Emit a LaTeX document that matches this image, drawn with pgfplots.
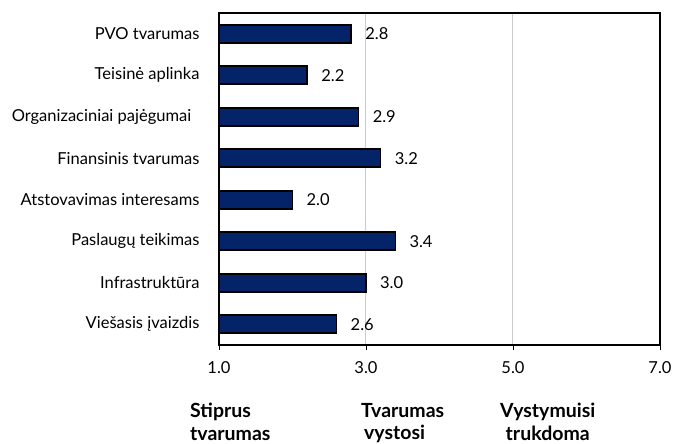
\documentclass[border=0pt]{standalone}
\usepackage{pgfplots}
\pgfplotsset{compat=1.18}
\usepackage{fontspec}
\setmainfont{Lato}
\definecolor{barblue}{RGB}{5,35,105}
\begin{document}
\begin{tikzpicture}[x=1pt,y=1pt]
\begin{axis}[
  at={(0,0)}, anchor=south west,
  scale only axis, width=441pt, height=332pt,
  xbar, bar width=18pt,
  xmin=1, xmax=7,
  ymin=-0.5, ymax=7.5, y dir=reverse,
  xtick={1,3,5,7},
  xticklabel style={yshift=-8pt, /pgf/number format/fixed, /pgf/number format/fixed zerofill, /pgf/number format/precision=1},
  /pgf/number format/assume math mode=true,
  xtick pos=bottom, xtick align=outside,
  major tick length=5pt,
  ytick={0,...,7},
  yticklabels={PVO tvarumas,Teisinė aplinka,Organizaciniai pajėgumai\phantom{x},Finansinis tvarumas,Atstovavimas interesams,Paslaugų teikimas,Infrastruktūra,Viešasis įvaizdis},
  ytick style={draw=none},
  extra y ticks={-0.5,0.5,1.5,2.5,3.5,4.5,5.5,6.5,7.5},
  extra y tick labels={},
  extra y tick style={ytick pos=left, ytick align=outside, major tick length=6pt, tick style={draw=black, line width=0.8pt}},
  xmajorgrids, grid style={gray!40, line width=1pt},
  axis line style={line width=2pt},
  tick style={black, line width=0.8pt},
  ticklabel style={font=\fontsize{16.5}{19}\selectfont},
  yticklabel style={xshift=-11pt},
  nodes near coords,
  nodes near coords style={font=\fontsize{16.5}{19}\selectfont, anchor=west, xshift=10pt, /pgf/number format/fixed, /pgf/number format/fixed zerofill, /pgf/number format/precision=1},
  point meta=x,
]
\addplot[fill=barblue, draw=black, line width=1.6pt] coordinates {
(2.8,0) (2.2,1) (2.9,2) (3.2,3) (2.0,4) (3.4,5) (3.0,6) (2.6,7)};
\end{axis}
\begin{scope}[font=\fontsize{19.5}{22.5}\selectfont\bfseries]
\node[anchor=north west, align=left, inner sep=0pt] at (-29,-58) {Stiprus\\tvarumas};
\node[anchor=north west, align=left, inner sep=0pt] at (142,-58) {Tvarumas\\\hspace*{3pt}vystosi};
\node[anchor=north west, align=center, inner sep=0pt] at (281,-58) {Vystymuisi\\trukdoma};
\end{scope}
\pgfresetboundingbox
\path[use as bounding box] (-219,-99) rectangle (459,345);
\end{tikzpicture}
\end{document}
